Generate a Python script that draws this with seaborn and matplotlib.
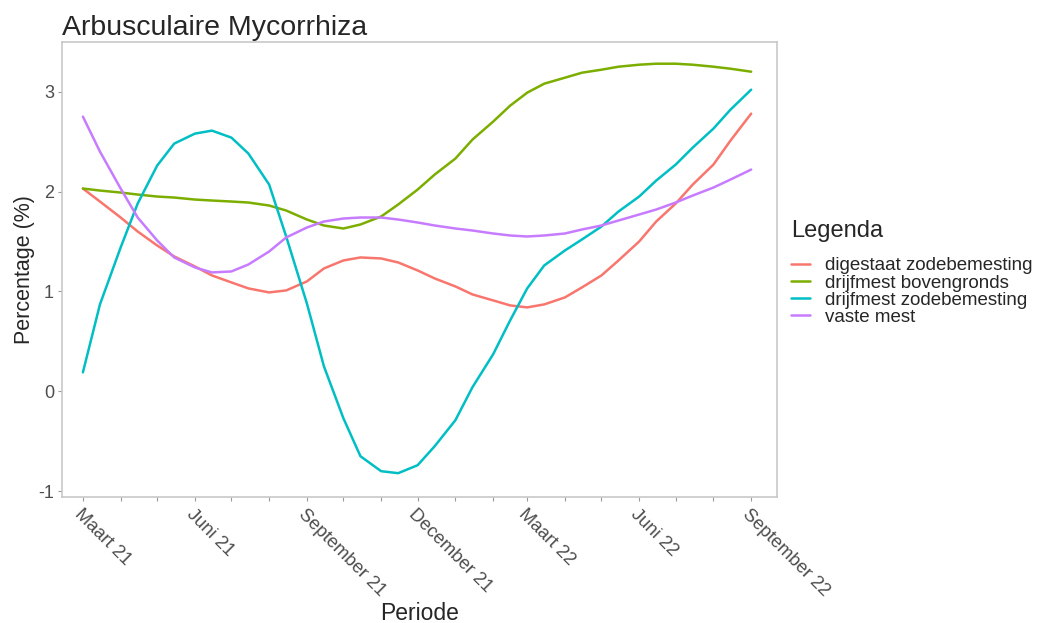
import pandas as pd
import seaborn as sns
import matplotlib.pyplot as plt

# readings on the 1st and 15th of each month, Maart 21 .. September 22
periode = pd.date_range("2021-03-01", "2022-09-01", freq="SMS")
digestaat_zode = [2.03, 1.90, 1.74, 1.60, 1.46, 1.35, 1.25, 1.16, 1.09, 1.03, 0.99, 1.01,
                  1.10, 1.23, 1.31, 1.34, 1.33, 1.29, 1.21, 1.13, 1.05, 0.97, 0.91, 0.86,
                  0.84, 0.87, 0.94, 1.04, 1.16, 1.31, 1.50, 1.70, 1.88, 2.07, 2.27, 2.51, 2.78]
drijfmest_boven = [2.03, 2.01, 1.99, 1.97, 1.95, 1.94, 1.92, 1.91, 1.90, 1.89, 1.86, 1.81,
                   1.72, 1.66, 1.63, 1.67, 1.75, 1.87, 2.02, 2.17, 2.33, 2.52, 2.70, 2.86,
                   2.99, 3.08, 3.14, 3.19, 3.22, 3.25, 3.27, 3.28, 3.28, 3.27, 3.25, 3.23, 3.20]
drijfmest_zode = [0.19, 0.87, 1.44, 1.88, 2.26, 2.48, 2.58, 2.61, 2.54, 2.38, 2.07, 1.55,
                  0.88, 0.25, -0.27, -0.65, -0.80, -0.82, -0.74, -0.55, -0.29, 0.04, 0.37, 0.71,
                  1.03, 1.26, 1.41, 1.52, 1.65, 1.80, 1.95, 2.11, 2.27, 2.44, 2.63, 2.82, 3.02]
vaste_mest = [2.75, 2.40, 2.03, 1.74, 1.51, 1.34, 1.24, 1.19, 1.20, 1.27, 1.40, 1.54,
              1.64, 1.70, 1.73, 1.74, 1.74, 1.72, 1.69, 1.66, 1.63, 1.61, 1.58, 1.56,
              1.55, 1.56, 1.58, 1.62, 1.66, 1.71, 1.77, 1.82, 1.89, 1.96, 2.04, 2.12, 2.22]

series = {
    "digestaat zodebemesting": digestaat_zode,
    "drijfmest bovengronds": drijfmest_boven,
    "drijfmest zodebemesting": drijfmest_zode,
    "vaste mest": vaste_mest,
}
df = pd.concat(
    [pd.DataFrame({"Periode": periode, "waarde": v, "Legenda": k}) for k, v in series.items()]
)

months = pd.date_range("2021-03-01", "2022-09-01", freq="MS")
tick_labels = ["Maart 21", "Juni 21", "September 21", "December 21",
               "Maart 22", "Juni 22", "September 22"]
colors = ["#F8766D", "#7CAE00", "#00BFC4", "#C77CFF"]

sns.set_style("white")
plt.rcParams["font.family"] = ["Liberation Sans", "DejaVu Sans"]

fig = plt.figure(figsize=(10.37, 6.23), dpi=100)
ax = fig.add_axes([0.060, 0.202, 0.689, 0.731])

sns.lineplot(data=df, x="Periode", y="waarde", hue="Legenda", palette=colors,
             linewidth=1.8, ax=ax)

ax.set_xlim(pd.Timestamp("2021-02-12"), pd.Timestamp("2022-09-22"))
ax.set_ylim(-1.06, 3.5)
ax.set_yticks([-1, 0, 1, 2, 3])
ax.set_yticklabels(["-1", "0", "1", "2", "3"], fontsize=13, color="#4d4d4d")
ax.set_xticks(months)
ax.set_xticklabels([tick_labels[i // 3] if i % 3 == 0 else "" for i in range(len(months))],
                   rotation=-45, ha="left", rotation_mode="anchor",
                   fontsize=13.2, color="#4d4d4d")
ax.tick_params(axis="both", length=3, width=0.8, color="#999999", pad=3, bottom=True, left=True)

for s in ax.spines.values():
    s.set_color("#c8c8c8")
    s.set_linewidth(1.2)

ax.set_xlabel("Periode", fontsize=16.5, labelpad=2)
ax.set_ylabel("Percentage (%)", fontsize=15.5, labelpad=2)
ax.set_title("Arbusculaire Mycorrhiza", fontsize=20.5, loc="left", pad=5)

leg = ax.legend(title="Legenda", loc="upper left", bbox_to_anchor=(1.01, 0.625),
                frameon=False, fontsize=13.5, title_fontsize=17, handlelength=1.0,
                labelspacing=0.0, borderaxespad=0.0, handletextpad=0.8)
leg._legend_box.align = "left"
leg._legend_box.sep = 11  # gap between title and entries

fig.savefig("out.png", dpi=100)
